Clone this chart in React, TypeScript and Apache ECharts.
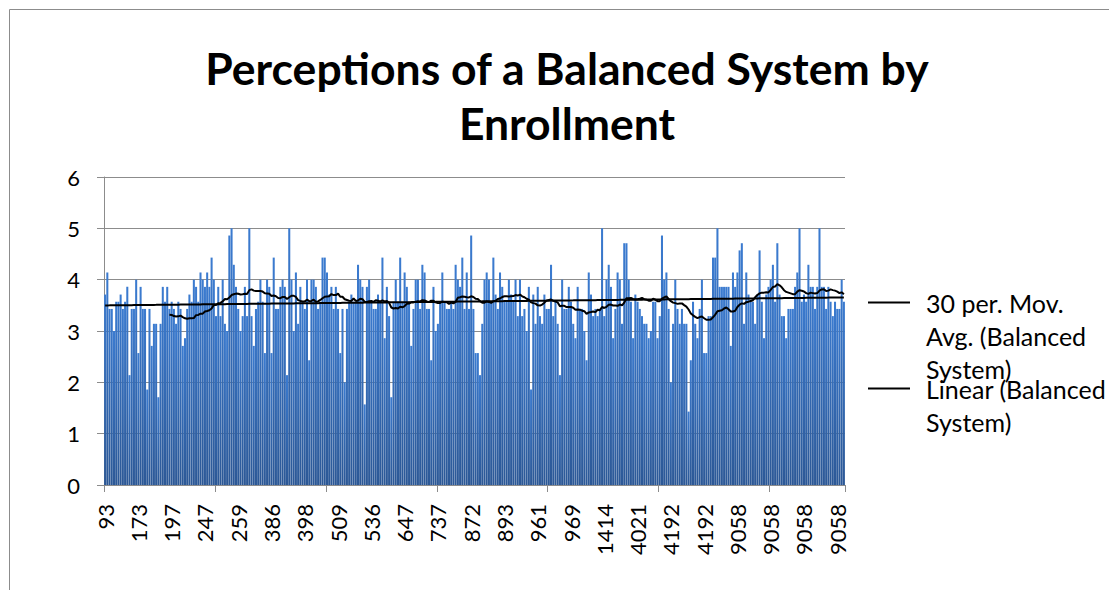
import React, { useEffect, useRef } from "react";
import * as echarts from "echarts";

// Tick labels shown every 15th category (enrollment, sorted ascending)
const tickLabels = [
  "93", "173", "197", "247", "259", "386", "398", "509", "536", "647", "737", "872",
  "893", "961", "969", "1414", "4021", "4192", "4192", "9058", "9058", "9058", "9058",
];
const labelStep = 15;
const tickStep = 50;
const maPeriod = 30;

// Balanced System ratings (four consecutive stretches)
const balancedSystemA = [
  3.71, 4.14, 3.43, 3.43, 3.0, 3.57, 3.57, 3.71, 3.43, 3.57,
  3.86, 2.14, 3.43, 3.43, 4.0, 2.57, 3.86, 3.43, 3.43, 1.86,
  3.43, 2.71, 3.14, 3.14, 1.71, 3.14, 3.86, 3.57, 3.86, 3.43,
  3.57, 3.43, 3.14, 3.57, 3.43, 2.71, 2.86, 3.43, 3.71, 3.57,
  4.0, 3.86, 3.57, 4.14, 4.0, 3.86, 4.14, 3.86, 4.43, 4.0,
  3.29, 3.86, 3.29, 4.0, 3.14, 3.0, 4.86, 5.0, 4.29, 3.86,
  3.43, 3.0, 3.29, 3.86, 3.29, 5.0, 3.29, 2.71, 3.43, 3.57,
  4.0, 3.57, 2.57, 4.0, 3.86, 2.57, 4.43, 3.43, 3.43, 3.86,
  4.0, 3.86,
];
const balancedSystemB = [
  2.14, 5.0, 4.0, 3.0, 4.14, 3.14, 3.86, 3.57, 3.43, 4.0,
  2.43, 4.0, 4.0, 3.86, 3.43, 3.57, 4.43, 4.43, 4.14, 3.71,
  3.86, 3.43, 3.86, 3.43, 2.57, 3.43, 2.0, 3.43, 3.57, 3.71,
  3.57, 3.57, 4.29, 4.0, 3.86, 1.57, 3.86, 4.0, 3.57, 3.43,
  3.43, 3.71, 3.57, 4.43, 2.86, 3.86, 3.29, 1.71, 3.57, 4.0,
  3.57, 4.43, 3.57, 4.14, 3.86, 3.57, 2.71, 3.43, 4.0, 4.0,
  3.43, 4.29, 4.14, 3.43, 3.43, 2.43, 3.86, 3.0, 3.14, 3.57,
  4.14, 3.57, 3.43, 3.43, 3.57, 3.43, 4.29, 4.0, 3.86, 4.43,
  3.43, 4.14, 3.43, 4.86,
];
const balancedSystemC = [
  3.43, 2.57, 2.57, 2.14, 3.14, 4.0, 4.14, 4.0, 3.57, 4.43,
  3.71, 3.43, 4.14, 3.86, 3.57, 3.57, 4.0, 3.71, 3.57, 4.0,
  3.29, 4.0, 3.29, 3.43, 3.0, 3.86, 1.86, 3.71, 3.14, 3.86,
  3.29, 3.14, 3.71, 3.43, 3.43, 4.29, 3.29, 3.57, 3.14, 2.14,
  4.0, 3.43, 3.43, 3.86, 3.57, 3.14, 2.86, 3.86, 3.43, 3.43,
  3.0, 2.43, 4.14, 3.71, 3.29, 3.43, 3.29, 3.43, 5.0, 3.29,
  4.0, 4.29, 3.86, 2.86, 3.43, 4.14, 4.0, 3.14, 4.71, 4.71,
  4.0, 3.57, 2.86, 3.71, 3.57, 3.43, 3.29, 3.14, 3.14, 2.86,
  3.0, 3.57, 3.57,
];
const balancedSystemD = [
  2.86, 3.29, 4.86, 4.0, 4.14, 3.43, 2.0, 3.14, 4.0, 3.43,
  3.14, 3.43, 3.14, 3.14, 1.43, 2.43, 3.57, 3.14, 2.86, 3.43,
  4.0, 2.57, 2.57, 3.29, 3.29, 4.43, 4.43, 5.0, 3.86, 3.86,
  3.86, 3.86, 3.86, 2.71, 4.14, 3.86, 4.14, 4.57, 4.71, 3.14,
  4.14, 3.71, 3.57, 3.57, 3.14, 3.71, 4.57, 3.57, 2.86, 3.71,
  3.86, 4.0, 4.29, 3.57, 4.71, 3.71, 3.29, 3.29, 2.86, 3.43,
  3.43, 3.43, 3.86, 4.14, 5.0, 3.57, 3.71, 3.57, 4.29, 3.86,
  3.86, 3.43, 3.86, 5.0, 3.86, 3.86, 3.43, 3.86, 3.57, 3.29,
  3.57, 3.43, 3.43, 4.0, 3.57,
];

const balancedSystem = [
  ...balancedSystemA,
  ...balancedSystemB,
  ...balancedSystemC,
  ...balancedSystemD,
];
const categories = balancedSystem.map((_, i) => String(i));

// Excel-style trendlines derived from the data
const movingAverage = balancedSystem.map((_, i) => {
  if (i < maPeriod - 1) return null;
  let s = 0;
  for (let k = i - maPeriod + 1; k <= i; k++) s += balancedSystem[k];
  return +(s / maPeriod).toFixed(4);
});
const linearTrend = (() => {
  const n = balancedSystem.length;
  let sx = 0, sy = 0, sxx = 0, sxy = 0;
  balancedSystem.forEach((y, x) => {
    sx += x; sy += y; sxx += x * x; sxy += x * y;
  });
  const b = (n * sxy - sx * sy) / (n * sxx - sx * sx);
  const a = (sy - b * sx) / n;
  return balancedSystem.map((_, x) => +(a + b * x).toFixed(4));
})();

const FONT = "Lato";
const GRAY = "#8c8c8c";

const legendText = {
  fontFamily: FONT,
  fontSize: 25,
  lineHeight: 33,
  color: "#000",
  padding: [0, 0, 0, 11],
};

export default function App() {
  const ref = useRef<HTMLDivElement>(null);
  useEffect(() => {
    const chart = echarts.init(ref.current!, null, { renderer: "svg" });
    chart.setOption({
      animation: false,
      backgroundColor: "#ffffff",
      title: {
        text: "Perceptions of a Balanced System by\nEnrollment",
        left: 567,
        textAlign: "center",
        top: 40,
        padding: 0,
        textStyle: {
          fontFamily: FONT,
          fontWeight: "bold",
          fontSize: 44.5,
          lineHeight: 55,
          color: "#000",
        },
      },
      graphic: [
        {
          type: "rect",
          silent: true,
          shape: { x: 9.5, y: 9.5, width: 1400, height: 900 },
          style: { fill: "none", stroke: GRAY, lineWidth: 1 },
        },
      ],
      legend: [
        {
          left: 868,
          top: 220,
          padding: 0,
          selectedMode: false,
          icon: "rect",
          itemWidth: 42,
          itemHeight: 2,
          data: ["30 per. Mov. Avg. (Balanced System)"],
          formatter: () => "\n\n30 per. Mov.\nAvg. (Balanced\nSystem)",
          textStyle: legendText,
        },
        {
          left: 868,
          top: 339,
          padding: 0,
          selectedMode: false,
          icon: "rect",
          itemWidth: 42,
          itemHeight: 2,
          data: ["Linear (Balanced System)"],
          formatter: () => "\nLinear (Balanced\nSystem)",
          textStyle: legendText,
        },
      ],
      grid: { left: 104, right: 264, top: 177, bottom: 105, containLabel: false },
      xAxis: {
        type: "category",
        data: categories,
        boundaryGap: true,
        axisLine: { show: true, lineStyle: { color: GRAY, width: 1 } },
        axisTick: { show: true, interval: tickStep - 1, length: 7, lineStyle: { color: GRAY } },
        axisLabel: {
          interval: labelStep - 1,
          rotate: 90,
          margin: 19,
          fontFamily: FONT,
          fontSize: 22,
          color: "#000",
          formatter: (_v: string, idx: number) =>
            idx % labelStep === 0 ? tickLabels[idx / labelStep] ?? "" : "",
        },
        splitLine: { show: false },
      },
      yAxis: {
        type: "value",
        min: 0,
        max: 6,
        interval: 1,
        axisLine: { show: true, lineStyle: { color: GRAY, width: 1 } },
        axisTick: { show: true, length: 7, lineStyle: { color: GRAY } },
        axisLabel: { margin: 24, fontFamily: FONT, fontSize: 22, color: "#000" },
        splitLine: { show: true, lineStyle: { color: GRAY, width: 1 } },
      },
      series: [
        {
          name: "Balanced System",
          type: "bar",
          data: balancedSystem,
          barCategoryGap: "8%",
          itemStyle: {
            color: new echarts.graphic.LinearGradient(0, 0, 0, 1, [
              { offset: 0, color: "#3b7bd0" },
              { offset: 1, color: "#2c5896" },
            ]),
          },
        },
        {
          name: "30 per. Mov. Avg. (Balanced System)",
          type: "line",
          data: movingAverage,
          symbol: "none",
          connectNulls: false,
          lineStyle: { color: "#000", width: 2 },
          itemStyle: { color: "#000" },
          z: 5,
        },
        {
          name: "Linear (Balanced System)",
          type: "line",
          data: linearTrend,
          symbol: "none",
          lineStyle: { color: "#000", width: 2 },
          itemStyle: { color: "#000" },
          z: 4,
        },
      ],
    });
    return () => chart.dispose();
  }, []);
  return (
    <div
      ref={ref}
      style={{ position: "fixed", left: 0, top: 0, width: 1109, height: 590 }}
    />
  );
}
